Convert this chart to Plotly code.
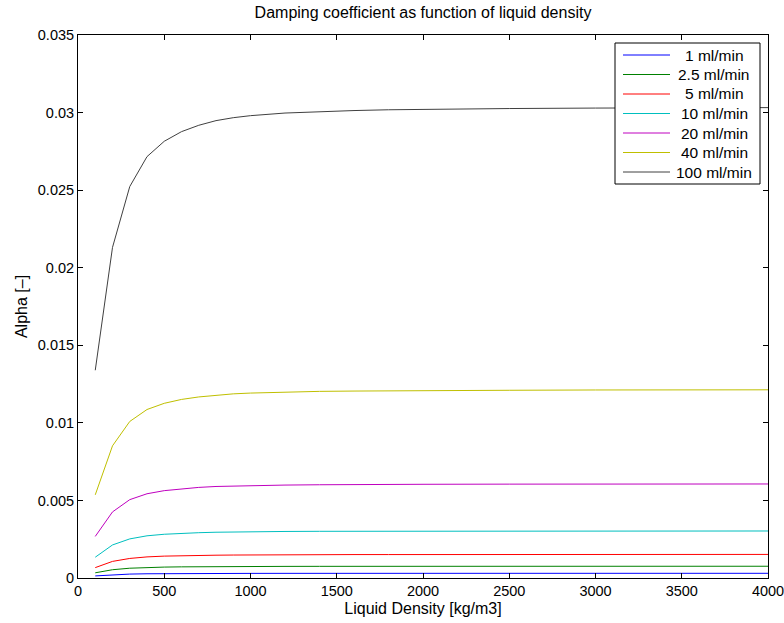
import plotly.graph_objects as go

# Liquid density samples [kg/m3]
density = [100, 200, 300, 400, 500, 600, 700, 800, 900, 1000,
           1200, 1400, 1600, 1800, 2000, 2500, 3000, 3500, 4000]

# Damping coefficient alpha [-] for each flow rate
alpha_1 = [0.000134, 0.000213, 0.000252, 0.000272, 0.000282, 0.000288, 0.000292,
           0.000295, 0.000297, 0.000298, 0.000300, 0.000301, 0.000301, 0.000302,
           0.000302, 0.000303, 0.000303, 0.000303, 0.000303]
alpha_2_5 = [0.000335, 0.000533, 0.000631, 0.000679, 0.000704, 0.000719, 0.000730,
             0.000737, 0.000742, 0.000745, 0.000749, 0.000752, 0.000753, 0.000755,
             0.000755, 0.000757, 0.000757, 0.000758, 0.000758]
alpha_5 = [0.00067, 0.00107, 0.00126, 0.00136, 0.00141, 0.00144, 0.00146,
           0.00147, 0.00148, 0.00149, 0.00150, 0.00150, 0.00151, 0.00151,
           0.00151, 0.00151, 0.00151, 0.00152, 0.00152]
alpha_10 = [0.00134, 0.00213, 0.00252, 0.00272, 0.00282, 0.00288, 0.00292,
            0.00295, 0.00297, 0.00298, 0.00300, 0.00301, 0.00301, 0.00302,
            0.00302, 0.00303, 0.00303, 0.00303, 0.00303]
alpha_20 = [0.00268, 0.00426, 0.00505, 0.00543, 0.00563, 0.00575, 0.00584,
            0.00590, 0.00593, 0.00596, 0.00599, 0.00601, 0.00603, 0.00604,
            0.00604, 0.00605, 0.00606, 0.00606, 0.00606]
alpha_40 = [0.00536, 0.00852, 0.01009, 0.01086, 0.01126, 0.01151, 0.01167,
            0.01179, 0.01187, 0.01192, 0.01199, 0.01203, 0.01205, 0.01207,
            0.01208, 0.01210, 0.01212, 0.01212, 0.01213]
alpha_100 = [0.01339, 0.02131, 0.02523, 0.02716, 0.02815, 0.02877, 0.02918,
             0.02948, 0.02967, 0.02980, 0.02997, 0.03007, 0.03013, 0.03018,
             0.03021, 0.03026, 0.03029, 0.03031, 0.03032]

series_names = ["1 ml/min", "2.5 ml/min", "5 ml/min", "10 ml/min",
                "20 ml/min", "40 ml/min", "100 ml/min"]
series_values = [alpha_1, alpha_2_5, alpha_5, alpha_10, alpha_20, alpha_40, alpha_100]
series_colors = ["#0000ff", "#008000", "#ff0000", "#00bfbf",
                 "#bf00bf", "#bfbf00", "#404040"]

x_ticks = [0, 500, 1000, 1500, 2000, 2500, 3000, 3500, 4000]
y_ticks = [0, 0.005, 0.01, 0.015, 0.02, 0.025, 0.03, 0.035]
y_tick_text = ["0", "0.005", "0.01", "0.015", "0.02", "0.025", "0.03", "0.035"]

FONT = "Liberation Sans, Arial, Helvetica, sans-serif"

# Figure geometry (pixels)
W, H = 784, 623
ML, MR, MT, MB = 78, 16, 35, 45
PW, PH = W - ML - MR, H - MT - MB


def px_x(px):
    return (px - ML) / PW


def px_y(py):
    return (H - MB - py) / PH


fig = go.Figure()
for name, vals, col in zip(series_names, series_values, series_colors):
    fig.add_trace(go.Scatter(x=density, y=vals, mode="lines", name=name,
                             line=dict(color=col, width=1), showlegend=False))

# Boxed legend with centred labels
shapes = [dict(type="rect", xref="paper", yref="paper",
               x0=px_x(615), x1=px_x(760), y0=px_y(184), y1=px_y(43),
               line=dict(color="black", width=1), fillcolor="white", layer="above")]
annotations = []
row_y0, row_dy = 55, 19.5
for i, (name, col) in enumerate(zip(series_names, series_colors)):
    ry = row_y0 + i * row_dy
    shapes.append(dict(type="line", xref="paper", yref="paper",
                       x0=px_x(623), x1=px_x(670), y0=px_y(ry), y1=px_y(ry),
                       line=dict(color=col, width=1), layer="above"))
    annotations.append(dict(text=name, xref="paper", yref="paper",
                            x=px_x(714), y=px_y(ry), xanchor="center", yanchor="middle",
                            showarrow=False,
                            font=dict(family=FONT, size=15.5, color="black")))

axis_common = dict(showline=True, linecolor="black", linewidth=1, mirror="allticks",
                   ticks="inside", ticklen=5, tickcolor="black", showgrid=False,
                   zeroline=False, automargin=False, ticklabeloverflow="allow",
                   tickfont=dict(family=FONT, size=14.5, color="black"))

fig.update_layout(
    width=W, height=H,
    margin=dict(l=ML, r=MR, t=MT, b=MB),
    paper_bgcolor="white", plot_bgcolor="white",
    font=dict(family=FONT, size=15, color="black"),
    title=dict(text="Damping coefficient as function of liquid density",
               x=(ML + W - MR) / 2 / W, xanchor="center", y=1 - 12 / H, yanchor="middle",
               font=dict(family=FONT, size=16, color="black")),
    xaxis=dict(range=[0, 4000], tickvals=x_ticks,
               title=dict(text="Liquid Density [kg/m3]", standoff=4,
                          font=dict(family=FONT, size=16)), **axis_common),
    yaxis=dict(range=[0, 0.035], tickvals=y_ticks, ticktext=y_tick_text,
               title=dict(text="Alpha [–]", standoff=6,
                          font=dict(family=FONT, size=16)), **axis_common),
    shapes=shapes,
    annotations=annotations,
    showlegend=False,
)

fig.write_html("out.html")
